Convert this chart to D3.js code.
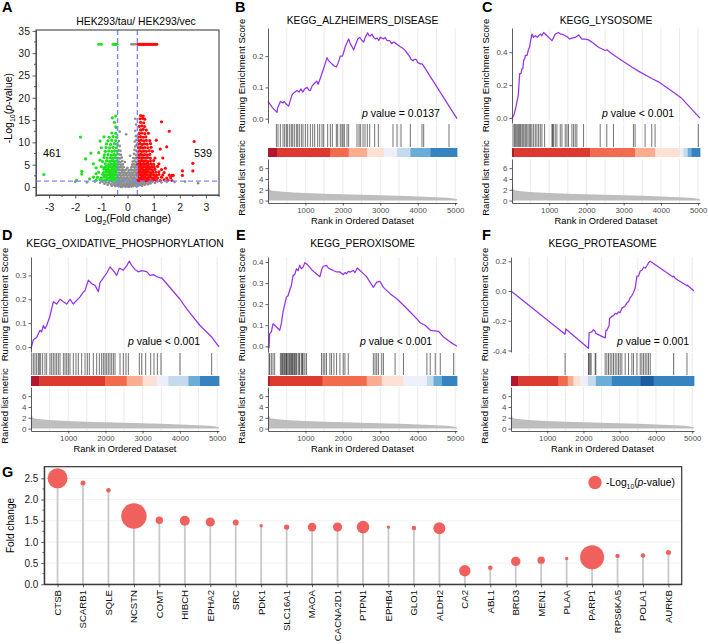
<!DOCTYPE html>
<html><head><meta charset="utf-8">
<script src="https://cdn.jsdelivr.net/npm/d3@7"></script>
<style>body{margin:0;background:#fff}</style>
</head><body><svg id="c" width="708" height="644"></svg>
<script>
const FONT = "'Liberation Sans', Arial, Helvetica, sans-serif";

// ---------------- Panel A data ----------------
const volcanoTitle = "HEK293/tau/ HEK293/vec";
const volcanoXTicks = [-3,-2,-1,0,1,2,3];
const volcanoYTicks = [0,5,10,15,20,25,30,35];
const foldCutoff = 0.378;
const pCutoff = 1.301;
const downCount = "461";
const upCount = "539";
const volcanoGray = [
[-2.0,1.15],[-1.55,1.05],[-1.25,1.2],[-1.05,0.95],[-0.95,1.15],[-0.88,0.7],[-0.82,1.05],[-0.76,0.45],[-0.72,0.9],[-0.68,1.2],[-0.63,0.6],[-0.6,0.25],[-0.57,1.0],[-0.53,0.5],[-0.5,0.85],[-0.47,0.2],[-0.44,1.15],[-0.42,0.6],[-0.39,0.35],[-0.36,0.9],[-0.34,0.15],[-0.31,0.55],[-0.28,1.1],[-0.26,0.3],[-0.23,0.75],[-0.2,0.1],[-0.18,0.5],[-0.15,0.95],[-0.13,0.25],[-0.1,0.6],[-0.08,0.05],[-0.05,0.35],[-0.03,0.8],[0,0.15],[0.02,0.5],[0.05,0.02],[0.07,0.7],[0.1,0.3],[0.12,1.0],[0.15,0.1],[0.17,0.55],[0.2,0.85],[0.22,0.2],[0.25,0.6],[0.27,1.15],[0.3,0.35],[0.32,0.8],[0.35,0.1],[0.37,0.5],[0.4,1.0],[0.42,0.3],[0.45,0.75],[0.48,1.2],[0.5,0.45],[0.53,0.9],[0.56,0.25],[0.59,0.65],[0.62,1.1],[0.66,0.5],[0.7,0.85],[0.74,1.2],[0.78,0.6],[0.83,1.0],[0.88,0.8],[0.95,1.15],[1.05,0.9],[1.15,1.2],[1.3,1.0],[1.5,1.15],[1.8,1.1],[2.2,1.2],[2.7,0.85],
[-0.25,0.02],[-0.15,0.4],[-0.05,0.6],[0.05,0.45],[0.15,0.75],[0.25,0.95],[-0.35,0.7],[0.35,0.65],[-0.1,1.2],[0.1,1.2],[-0.2,1.25],[0.2,1.25],[0,1.0],[-0.3,0.95],[0.3,1.0],
[-0.36,1.45],[-0.3,1.6],[-0.24,1.4],[-0.18,1.55],[-0.12,1.45],[-0.06,1.65],[0,1.4],[0.06,1.55],[0.12,1.4],[0.18,1.6],[0.24,1.45],[0.3,1.55],[0.36,1.4],
[-0.33,2.0],[-0.27,2.1],[-0.21,1.9],[-0.15,2.05],[-0.09,1.95],[-0.03,2.1],[0.03,1.9],[0.09,2.05],[0.15,2.15],[0.21,1.95],[0.27,2.05],[0.33,1.9],
[-0.36,2.55],[-0.3,2.7],[-0.24,2.5],[-0.18,2.65],[-0.12,2.55],[-0.06,2.7],[0,2.5],[0.06,2.65],[0.12,2.55],[0.18,2.7],[0.24,2.5],[0.3,2.65],[0.36,2.6],
[-0.33,3.2],[-0.27,3.1],[-0.21,3.3],[-0.15,3.15],[-0.09,3.25],[-0.03,3.1],[0.03,3.3],[0.09,3.15],[0.15,3.25],[0.21,3.1],[0.27,3.3],[0.33,3.2],
[-0.36,3.8],[-0.3,3.9],[-0.24,3.75],[-0.18,3.85],[-0.12,3.7],[-0.05,3.9],[0.05,3.75],[0.12,3.9],[0.18,3.8],[0.24,3.7],[0.3,3.85],[0.36,3.8],
[-0.33,4.4],[-0.27,4.5],[-0.21,4.35],[-0.15,4.45],[0,4.3],[0.15,4.4],[0.21,4.5],[0.27,4.35],[0.33,4.45],
[-0.36,5.0],[-0.3,5.1],[-0.24,4.95],[-0.18,5.05],[0.18,5.0],[0.24,5.1],[0.3,4.95],[0.36,5.05],
[-0.33,5.7],[-0.27,5.6],[-0.2,5.8],[-0.1,5.6],[0.2,5.7],[0.27,5.8],[0.33,5.6],
[-0.35,6.5],[-0.29,6.4],[-0.22,6.6],[0.22,6.5],[0.29,6.4],[0.35,6.6],
[-0.32,7.3],[-0.25,7.2],[0.1,7.0],[0.25,7.4],[0.32,7.2],
[-0.34,8.2],[-0.27,8.1],[0.27,8.3],[0.34,8.1],
[-0.3,9.2],[0.3,9.1],[0.35,9.4],
[-0.33,10.3],[0.28,10.2],[0.34,10.5],
[-0.05,11.8],[0.32,11.4],[0.3,12.6],[-0.3,12.4],[0.33,14.0],[0.3,15.3],
[0.15,32],[0.2,32],[0.25,32],[0.3,32]
];
const volcanoDown = [
[-0.4,1.5],[-0.46,1.4],[-0.52,1.6],[-0.58,1.45],[-0.64,1.55],[-0.7,1.4],[-0.78,1.6],[-0.86,1.5],[-0.95,1.45],[-1.05,1.6],[-1.2,1.5],
[-0.42,2.1],[-0.48,2.0],[-0.54,2.15],[-0.6,2.05],[-0.66,2.2],[-0.73,2.0],[-0.8,2.1],[-0.9,2.2],[-1.0,2.0],[-1.15,2.15],
[-0.4,2.7],[-0.46,2.8],[-0.52,2.65],[-0.58,2.75],[-0.64,2.6],[-0.7,2.8],[-0.77,2.7],[-0.85,2.65],[-0.95,2.8],
[-0.43,3.3],[-0.49,3.4],[-0.55,3.25],[-0.62,3.35],[-0.68,3.2],[-0.75,3.4],[-0.83,3.3],[-0.92,3.25],[-1.1,3.35],
[-0.41,3.9],[-0.47,3.85],[-0.53,4.0],[-0.6,3.9],[-0.67,3.8],[-0.74,3.95],[-0.82,3.9],[-0.9,4.0],
[-0.44,4.5],[-0.5,4.6],[-0.57,4.45],[-0.64,4.55],[-0.71,4.5],[-0.8,4.6],[-0.88,4.4],[-1.0,4.55],
[-0.4,5.1],[-0.47,5.2],[-0.55,5.05],[-0.63,5.15],[-0.72,5.1],[-0.85,5.2],
[-0.42,5.8],[-0.5,5.7],[-0.58,5.9],[-0.68,5.75],[-0.8,5.85],[-0.95,5.7],
[-0.4,6.5],[-0.48,6.6],[-0.57,6.45],[-0.66,6.55],[-0.78,6.5],[-0.9,6.6],
[-0.43,7.2],[-0.52,7.3],[-0.62,7.15],[-0.74,7.25],[-0.88,7.2],
[-0.4,8.0],[-0.5,8.1],[-0.6,7.95],[-0.72,8.05],[-0.85,8.0],
[-0.42,8.8],[-0.55,8.9],[-0.68,8.75],[-0.82,8.85],
[-0.4,9.6],[-0.5,9.7],[-0.65,9.55],[-0.8,9.65],
[-0.45,10.4],[-0.6,10.5],[-0.75,10.35],
[-0.42,11.2],[-0.55,11.3],[-0.7,11.15],[-0.9,11.25],
[-0.45,12.0],[-0.6,12.1],[-0.42,13.3],[-0.45,13.5],[-0.5,14.5],[-0.58,15.5],[-0.45,15.9],
[-3.2,2.8],[-1.95,1.5],[-1.8,11.2],[-1.75,3.5],[-1.75,2.9],[-1.6,6.3],[-1.4,7.6],[-1.3,5.2],[-1.2,4.3],[-1.1,7.7],[-1.05,10.3],[-1.3,2.2],[-1.2,3.0],[-1.45,1.8],[-1.0,8.8],[-1.05,6.0],
[-1.1,32],[-1.0,32],[-0.55,32],[-0.5,32],[-0.45,32],[-0.4,32]
];
const volcanoUp = [
[0.4,1.5],[0.46,1.4],[0.52,1.6],[0.58,1.45],[0.64,1.55],[0.7,1.4],[0.76,1.6],[0.82,1.5],[0.9,1.45],[1.0,1.6],[1.1,1.5],[1.25,1.45],[1.4,1.6],[1.55,1.5],[1.7,1.45],
[0.42,2.1],[0.48,2.0],[0.54,2.15],[0.6,2.05],[0.66,2.2],[0.72,2.0],[0.8,2.1],[0.88,2.2],[0.96,2.0],[1.05,2.15],[1.15,2.05],[1.3,2.2],[1.5,2.0],[1.65,2.1],
[0.4,2.7],[0.46,2.8],[0.52,2.65],[0.58,2.75],[0.64,2.6],[0.7,2.8],[0.76,2.7],[0.84,2.65],[0.92,2.8],[1.0,2.7],[1.1,2.6],[1.2,2.8],[1.35,2.7],[1.6,2.65],[1.75,2.6],
[0.43,3.3],[0.49,3.4],[0.55,3.25],[0.61,3.35],[0.67,3.2],[0.73,3.4],[0.8,3.3],[0.88,3.25],[0.97,3.35],[1.08,3.3],[1.2,3.4],[1.4,3.25],
[0.41,3.9],[0.47,3.85],[0.53,4.0],[0.59,3.9],[0.65,3.8],[0.72,3.95],[0.79,3.9],[0.87,4.0],[0.95,3.85],[1.05,3.95],[1.3,3.9],
[0.44,4.5],[0.5,4.6],[0.56,4.45],[0.62,4.55],[0.69,4.5],[0.76,4.6],[0.84,4.4],[0.93,4.55],[1.02,4.5],[1.15,4.6],
[0.4,5.1],[0.46,5.2],[0.52,5.05],[0.58,5.15],[0.65,5.1],[0.72,5.2],[0.8,5.05],[0.9,5.15],[1.0,5.1],[1.2,5.2],
[0.42,5.8],[0.48,5.7],[0.55,5.9],[0.62,5.75],[0.7,5.85],[0.78,5.7],[0.88,5.8],[1.0,5.9],
[0.4,6.5],[0.46,6.6],[0.53,6.45],[0.6,6.55],[0.68,6.5],[0.77,6.6],[0.87,6.45],[1.05,6.5],
[0.43,7.2],[0.5,7.3],[0.57,7.15],[0.65,7.25],[0.74,7.2],[0.85,7.3],
[0.4,8.0],[0.47,8.1],[0.55,7.95],[0.63,8.05],[0.72,8.0],[0.83,8.1],[0.95,8.0],
[0.42,8.8],[0.5,8.9],[0.58,8.75],[0.67,8.85],[0.78,8.8],[0.9,8.9],
[0.4,9.6],[0.48,9.7],[0.56,9.55],[0.65,9.65],[0.75,9.6],[0.88,9.7],
[0.44,10.4],[0.52,10.5],[0.62,10.35],[0.72,10.45],[0.85,10.4],
[0.42,11.2],[0.5,11.3],[0.6,11.15],[0.7,11.25],
[0.45,12.0],[0.55,12.1],[0.66,11.95],[0.8,12.05],
[0.5,12.8],[0.6,12.9],[0.72,12.75],[0.45,13.6],[0.55,13.7],[0.65,13.55],
[0.5,14.5],[0.62,14.4],[0.48,15.3],[0.58,15.4],[0.66,15.2],[0.5,16.0],[0.6,15.9],
[1.3,14.6],[1.6,12.5],[1.5,9.0],[2.1,3.6],[2.1,2.6],[2.55,10.2],[2.5,5.3],[2.5,3.6],[1.7,2.6],[1.25,8.5],[1.35,6.5],[1.1,10.5],[1.45,4.2],
[0.4,32],[0.44,32],[0.48,32],[0.52,32],[0.56,32],[0.6,32],[0.64,32],[0.68,32],[0.72,32],[0.76,32],[0.8,32],[0.84,32],[0.88,32],[0.92,32],[0.96,32],[1.0,32],[1.04,32],[1.08,32],[1.12,32]
];

// ---------------- GSEA data ----------------
const rankMax = 5050;
const rankTicks = [1000,2000,3000,4000,5000];
const metricTicks = [0,2,4,6];
const rankedMetric = [[0,4.5],[8,3.0],[20,2.4],[50,2.0],[100,1.85],[200,1.75],[400,1.62],[700,1.5],[1000,1.4],[1500,1.28],[2000,1.17],[2500,1.07],[3000,0.97],[3500,0.87],[4000,0.76],[4500,0.63],[4800,0.52],[4950,0.4],[5050,0.25]];

const esAlzheimers = [[0,0.055],[120,0.035],[240,0.02],[260,0.035],[330,0.055],[400,0.05],[430,0.055],[500,0.045],[552,0.04],[600,0.06],[640,0.075],[668,0.08],[720,0.085],[775,0.09],[830,0.085],[880,0.095],[930,0.085],[980,0.095],[1042,0.1],[1100,0.09],[1131,0.09],[1180,0.105],[1220,0.11],[1260,0.115],[1300,0.12],[1340,0.11],[1400,0.13],[1443,0.145],[1500,0.165],[1577,0.195],[1620,0.185],[1666,0.18],[1750,0.17],[1826,0.165],[1880,0.18],[1932,0.2],[1990,0.2],[2066,0.23],[2120,0.245],[2155,0.255],[2200,0.24],[2245,0.23],[2290,0.22],[2334,0.235],[2400,0.255],[2450,0.26],[2512,0.25],[2556,0.245],[2600,0.26],[2663,0.275],[2700,0.265],[2734,0.265],[2780,0.27],[2824,0.26],[2870,0.255],[2913,0.258],[2960,0.25],[3000,0.26],[3091,0.255],[3130,0.26],[3180,0.25],[3250,0.25],[3300,0.24],[3358,0.245],[3420,0.24],[3480,0.235],[3536,0.23],[3600,0.225],[3650,0.22],[3714,0.21],[3780,0.2],[3820,0.19],[3874,0.185],[3920,0.19],[3955,0.19],[4000,0.18],[4070,0.175],[4120,0.175],[4160,0.168],[5050,0.0]];
const hitsAlzheimers = [223,267,330,401,445,490,526,579,623,659,704,757,793,837,891,935,998,1060,1131,1194,1247,1327,1381,1443,1487,1594,1666,1719,1826,1862,1932,1977,2004,2040,2111,2155,2378,2432,2467,2539,2592,2654,2717,2850,2948,3340,3447,3554,3803,4115,4160,4836];
const barsAlzheimers = [[0,240,0],[240,1666,1],[1666,2155,2],[2155,2645,3],[2645,3091,4],[3091,3447,5],[3447,3803,6],[3803,4338,7],[4338,5050,8]];

const esLysosome = [[0,0],[45,0.015],[89,0.05],[134,0.1],[170,0.14],[206,0.27],[240,0.27],[268,0.3],[290,0.3],[313,0.35],[340,0.36],[358,0.38],[402,0.38],[447,0.42],[470,0.43],[492,0.46],[536,0.51],[581,0.49],[626,0.5],[680,0.49],[715,0.5],[760,0.51],[800,0.5],[849,0.52],[939,0.5],[1073,0.47],[1120,0.49],[1162,0.51],[1251,0.52],[1300,0.51],[1341,0.51],[1430,0.5],[1500,0.49],[1550,0.48],[1609,0.485],[1698,0.49],[1788,0.505],[1877,0.48],[1966,0.48],[2056,0.475],[2190,0.455],[2324,0.43],[2503,0.41],[2550,0.415],[2681,0.39],[2950,0.35],[3218,0.31],[3396,0.285],[3754,0.24],[3933,0.22],[4290,0.165],[4558,0.12],[5050,0.0]];
const hitsLysosome = [27,63,89,116,152,179,206,232,268,295,322,358,393,429,465,501,536,581,626,670,715,760,804,876,1073,1090,1117,1162,1207,1296,1341,1430,1475,1519,1609,1654,1698,1743,1922,2369,2547,2726,3262,3307,3575,3754,3843,5005];
const barsLysosome = [[0,60,0],[60,2100,1],[2100,3307,2],[3307,3843,3],[3843,4514,4],[4514,4603,5],[4603,4720,6],[4720,4827,7],[4827,5050,8]];

const esOxphos = [[0,-0.007],[63,0.03],[152,0.04],[242,0.07],[287,0.063],[331,0.09],[376,0.077],[421,0.09],[510,0.13],[600,0.19],[689,0.18],[779,0.2],[869,0.19],[958,0.18],[1048,0.2],[1137,0.18],[1227,0.195],[1316,0.21],[1406,0.23],[1451,0.236],[1540,0.28],[1630,0.265],[1719,0.258],[1809,0.232],[1853,0.27],[1943,0.29],[2033,0.31],[2122,0.335],[2212,0.32],[2301,0.3],[2373,0.33],[2480,0.322],[2570,0.34],[2641,0.36],[2704,0.342],[2794,0.325],[2883,0.315],[2973,0.32],[3107,0.316],[3197,0.3],[3286,0.303],[3376,0.295],[3465,0.29],[3510,0.29],[4002,0.2],[4182,0.16],[4540,0.09],[4853,0.042],[5050,0.0]];
const hitsOxphos = [18,63,107,152,197,224,260,313,376,421,510,555,600,645,689,734,779,869,913,958,1003,1048,1137,1209,1271,1361,1451,1513,1567,1674,1764,1836,1898,1943,1988,2033,2077,2122,2167,2212,2256,2391,2480,2552,2615,2910,2973,3080,3215,3304,3394,3492,4002,4853];
const barsOxphos = [[0,224,0],[224,1988,1],[1988,2570,2],[2570,3000,3],[3000,3376,4],[3376,3689,5],[3689,4227,6],[4227,4540,7],[4540,5050,8]];

const esPeroxisome = [[0,-0.01],[27,-0.005],[45,0.06],[89,0.068],[134,0.107],[179,0.1],[313,0.076],[358,0.11],[402,0.163],[492,0.234],[536,0.24],[581,0.266],[626,0.29],[670,0.337],[715,0.34],[760,0.368],[804,0.36],[849,0.384],[894,0.368],[938,0.376],[983,0.397],[1028,0.392],[1073,0.384],[1162,0.365],[1251,0.35],[1385,0.33],[1430,0.362],[1475,0.38],[1564,0.384],[1609,0.372],[1698,0.364],[1743,0.36],[1832,0.353],[1922,0.353],[2011,0.34],[2056,0.35],[2100,0.345],[2145,0.356],[2190,0.352],[2279,0.36],[2324,0.35],[2386,0.372],[2458,0.36],[2547,0.345],[2637,0.33],[2726,0.305],[2815,0.28],[2905,0.305],[2994,0.308],[3084,0.28],[3262,0.25],[3441,0.226],[3620,0.195],[3799,0.163],[3977,0.13],[4067,0.112],[4201,0.1],[4335,0.076],[4558,0.071],[4692,0.044],[4871,0.02],[5050,0.0]];
const hitsPeroxisome = [27,45,89,134,179,331,358,384,402,429,447,474,492,509,536,563,581,608,626,652,670,697,715,742,760,804,831,849,894,921,938,983,1028,1430,1475,1519,1564,1654,1698,1761,1832,1922,2011,2056,2145,2815,2860,2905,2950,3039,3084,3396,3620,4246,4335,4469,4603,4961];
const barsPeroxisome = [[0,45,0],[45,1457,1],[1457,2637,2],[2637,3039,3],[3039,3620,4],[3620,4246,5],[4246,4424,6],[4424,4648,7],[4648,5050,8]];

const esProteasome = [[0,0],[1493,-0.29],[1511,-0.255],[2138,-0.385],[2156,-0.28],[2230,-0.275],[2276,-0.26],[2322,-0.27],[2341,-0.285],[2506,-0.305],[2599,-0.315],[2620,-0.265],[2645,-0.265],[2709,-0.23],[2720,-0.185],[2783,-0.17],[2829,-0.165],[2875,-0.15],[2920,-0.155],[2967,-0.14],[3013,-0.145],[3059,-0.115],[3151,-0.1],[3200,-0.08],[3244,-0.07],[3290,-0.045],[3336,-0.03],[3380,-0.01],[3428,0.02],[3474,0.1],[3520,0.1],[3566,0.135],[3612,0.14],[3658,0.16],[3704,0.155],[3750,0.17],[3796,0.19],[3843,0.2],[4442,0.1],[4460,0.095],[4488,0.1],[4534,0.085],[4856,0.035],[4870,0.04],[4884,0.035],[5050,0.0]];
const hitsProteasome = [1493,2138,2156,2184,2212,2322,2341,2599,2645,2691,2737,2783,2829,2875,2921,2967,3013,3059,3151,3244,3336,3382,3474,3566,3612,3658,3704,3750,3796,3843,4488,4856];
const barsProteasome = [[0,203,0],[203,1309,1],[1309,1567,2],[1567,1724,3],[1724,1908,4],[1908,2120,5],[2120,2341,6],[2341,2783,7],[2783,3566,8],[3566,3935,9],[3935,5050,8]];

// ---------------- Panel G data ----------------
const genes = ["CTSB","SCARB1","SQLE","NCSTN","COMT","HIBCH","EPHA2","SRC","PDK1","SLC16A1","MAOA","CACNA2D1","PTPN1","EPHB4","GLO1","ALDH2","CA2","ABL1","BRD3","MEN1","PLAA","PARP1","RPS6KA5","POLA1","AURKB"];
const foldChange = [2.50,2.39,2.22,1.61,1.51,1.50,1.47,1.46,1.38,1.35,1.35,1.35,1.35,1.35,1.33,1.32,0.32,0.39,0.54,0.57,0.61,0.64,0.67,0.68,0.75];
const negLog10P = [24.8,1.55,1.31,40,3.4,6.2,5.25,2.23,0.72,1.81,4.59,5.25,9.84,0.72,1.31,8.93,8.06,1.31,5.48,3.4,0.72,35.7,1.2,1.31,1.55];
const fcTicks = [0,0.5,1.0,1.5,2.0,2.5];

// ---------------- drawing ----------------
const svg = d3.select("#c");
svg.append("rect").attr("width",708).attr("height",644).attr("fill","#fff");

function styleAxis(sel, fs, col, lineCol) {
  sel.attr("font-family", FONT);
  sel.select(".domain").attr("stroke", lineCol).attr("stroke-width", 0.8);
  sel.selectAll(".tick line").attr("stroke", lineCol).attr("stroke-width", 0.8);
  sel.selectAll(".tick text").attr("font-size", fs).attr("fill", col).attr("font-family", FONT);
}
function letter(t, x, y) {
  svg.append("text").attr("x",x).attr("y",y).text(t).attr("font-family",FONT)
    .attr("font-weight","bold").attr("font-size",14.5).attr("fill","#000");
}
const fmtMinus = f => d => f(d).replace("\u2212","-");

// ===== Panel A =====
(function(){
  const L=36,R=219,T=30,B=195;
  const x = d3.scaleLinear().domain([-3.5,3.5]).range([L,R]);
  const y = d3.scaleLinear().domain([-1.8,35.2]).range([B,T]);
  const g = svg.append("g");
  g.append("g").selectAll("line").data(d3.range(-3.5,3.51,0.5).filter(v=>Math.abs(v%1)>0.1))
    .join("line").attr("x1",d=>x(d)).attr("x2",d=>x(d)).attr("y1",B).attr("y2",B+2).attr("stroke","#333").attr("stroke-width",0.8);
  g.append("g").selectAll("line").data(d3.range(2.5,35,5))
    .join("line").attr("y1",d=>y(d)).attr("y2",d=>y(d)).attr("x1",L).attr("x2",L-2).attr("stroke","#333").attr("stroke-width",0.8);
  const ax = g.append("g").attr("transform",`translate(0,${B})`)
    .call(d3.axisBottom(x).tickValues(volcanoXTicks).tickSize(3.5).tickSizeOuter(0).tickFormat(fmtMinus(d3.format("d"))));
  styleAxis(ax, 10.5, "#222", "#333"); ax.selectAll(".tick text").attr("dy","0.9em");
  const ay = g.append("g").attr("transform",`translate(${L},0)`)
    .call(d3.axisLeft(y).tickValues(volcanoYTicks).tickSize(3.5).tickSizeOuter(0).tickPadding(2.5));
  styleAxis(ay, 10.5, "#222", "#333");
  g.append("g").selectAll("circle").data(volcanoGray).join("circle")
    .attr("cx",d=>x(d[0])).attr("cy",d=>y(d[1])).attr("r",1.35).attr("fill","#8e8e8e");
  g.append("g").selectAll("circle").data(volcanoDown).join("circle")
    .attr("cx",d=>x(d[0])).attr("cy",d=>y(d[1])).attr("r",1.6).attr("fill","#1fe01f");
  g.append("g").selectAll("circle").data(volcanoUp).join("circle")
    .attr("cx",d=>x(d[0])).attr("cy",d=>y(d[1])).attr("r",1.6).attr("fill","#ff0a0a");
  const dash = {stroke:"#7f86ff", "stroke-width":1.4, "stroke-dasharray":"5,3"};
  [-foldCutoff, foldCutoff].forEach(v=>{
    const l = g.append("line").attr("x1",x(v)).attr("x2",x(v)).attr("y1",T).attr("y2",B);
    Object.entries(dash).forEach(([k,val])=>l.attr(k,val));
  });
  const h = g.append("line").attr("x1",L).attr("x2",R).attr("y1",y(pCutoff)).attr("y2",y(pCutoff));
  Object.entries(dash).forEach(([k,val])=>h.attr(k,val));
  g.append("rect").attr("x",L).attr("y",T).attr("width",R-L).attr("height",B-T).attr("fill","none").attr("stroke","#444").attr("stroke-width",1.1);
  g.append("text").attr("x",136).attr("y",25).attr("text-anchor","middle").attr("font-family",FONT).attr("font-size",10.4).text(volcanoTitle);
  g.append("text").attr("x",52).attr("y",157).attr("text-anchor","middle").attr("font-family",FONT).attr("font-size",10.8).text(downCount);
  g.append("text").attr("x",203).attr("y",157).attr("text-anchor","middle").attr("font-family",FONT).attr("font-size",10.8).text(upCount);
  const xl = g.append("text").attr("x",128).attr("y",222).attr("text-anchor","middle").attr("font-family",FONT).attr("font-size",10.5);
  xl.append("tspan").text("Log");
  xl.append("tspan").text("2").attr("font-size",7).attr("dy",2.5);
  xl.append("tspan").text("(Fold change)").attr("dy",-2.5);
  const yl = g.append("text").attr("transform","translate(12,108) rotate(-90)").attr("text-anchor","middle").attr("font-family",FONT).attr("font-size",10.5);
  yl.append("tspan").text("-Log");
  yl.append("tspan").text("10").attr("font-size",7).attr("dy",2.5);
  yl.append("tspan").text("(").attr("dy",-2.5);
  yl.append("tspan").text("p").attr("font-style","italic");
  yl.append("tspan").text("-value)");
})();
letter("A",2,12);

// ===== GSEA panels =====
const gseaRows = [
 {esTop:28, esBot:123, hitTop:124, hitBot:147, barTop:148, barBot:157, rkTop:159, rkBot:203, titleY:24, xlabY:223.5},
 {esTop:257, esBot:352, hitTop:353, hitBot:375, barTop:376, barBot:386, rkTop:387, rkBot:431, titleY:247, xlabY:451.5}
];
const barPalette = ["#b2182b","#da3a2f","#f26b4e","#f9ad90","#fde1d4","#edf0fa","#c4daed","#6cadd7","#3683c0","#1d5c9e"];

function drawGsea(p) {
  const r = gseaRows[p.row];
  const g = svg.append("g");
  const x = d3.scaleLinear().domain([0, rankMax]).range([p.L, p.R]);
  const y = d3.scaleLinear().domain(p.esDomain).range([r.esBot, r.esTop]);
  const ym = d3.scaleLinear().domain([-0.45, 7.7]).range([r.rkBot, r.rkTop]);
  const grid = d3.range(500, rankMax, 500);
  [[r.esTop,r.esBot],[r.hitTop,r.barTop],[r.rkTop,r.rkBot]].forEach(([a,b])=>{
    g.append("g").selectAll("line").data(grid).join("line")
      .attr("x1",d=>x(d)).attr("x2",d=>x(d)).attr("y1",a).attr("y2",b)
      .attr("stroke","#e4e4e4").attr("stroke-width",0.8);
  });
  g.append("path").datum(p.es)
    .attr("d", d3.line().x(d=>x(d[0])).y(d=>y(d[1])))
    .attr("fill","none").attr("stroke","#9633e8").attr("stroke-width",1.25).attr("stroke-linejoin","round");
  g.append("g").selectAll("line").data(p.hits).join("line")
    .attr("x1",d=>x(d)).attr("x2",d=>x(d)).attr("y1",r.hitTop).attr("y2",r.hitBot)
    .attr("stroke","#000").attr("stroke-opacity",0.65).attr("stroke-width",0.85);
  g.append("g").selectAll("rect").data(p.bars).join("rect")
    .attr("x",d=>x(d[0])).attr("width",d=>x(d[1])-x(d[0])+0.4)
    .attr("y",r.barTop).attr("height",r.barBot-r.barTop).attr("fill",d=>barPalette[d[2]]);
  g.append("path").datum(rankedMetric)
    .attr("d", d3.area().x(d=>x(d[0])).y0(ym(0)).y1(d=>ym(d[1])))
    .attr("fill","#bebebe");
  const ay = g.append("g").attr("transform",`translate(${p.L},0)`)
    .call(d3.axisLeft(y).tickValues(p.esTicks).tickSize(2.5).tickSizeOuter(0).tickPadding(2).tickFormat(fmtMinus(d3.format(".1f"))));
  styleAxis(ay, 8, "#4d4d4d", "#333");
  const am = g.append("g").attr("transform",`translate(${p.L},0)`)
    .call(d3.axisLeft(ym).tickValues(metricTicks).tickSize(2.5).tickSizeOuter(0).tickPadding(2));
  styleAxis(am, 8, "#4d4d4d", "#333");
  const ax = g.append("g").attr("transform",`translate(0,${r.rkBot})`)
    .call(d3.axisBottom(x).tickValues(rankTicks).tickSize(2.5).tickSizeOuter(0).tickPadding(1.5).tickFormat(d3.format("d")));
  styleAxis(ax, 7.8, "#4d4d4d", "#333");
  const cx = (p.L+p.R)/2;
  g.append("text").attr("x",cx).attr("y",r.titleY).attr("text-anchor","middle")
    .attr("font-family",FONT).attr("font-size",10.3).text(p.title);
  g.append("text").attr("x",cx).attr("y",r.xlabY).attr("text-anchor","middle")
    .attr("font-family",FONT).attr("font-size",9.3).text("Rank in Ordered Dataset");
  g.append("text").attr("transform",`translate(${p.L-23},${(r.esTop+r.esBot)/2}) rotate(-90)`)
    .attr("text-anchor","middle").attr("font-family",FONT).attr("font-size",9.5).text("Running Enrichment Score");
  g.append("text").attr("transform",`translate(${p.L-23},${(r.rkTop+r.rkBot)/2 - 3}) rotate(-90)`)
    .attr("text-anchor","middle").attr("font-family",FONT).attr("font-size",9.5).text("Ranked list metric");
  const pt = g.append("text").attr("x",p.px).attr("y",p.py).attr("font-family",FONT).attr("font-size",10.5);
  pt.append("tspan").text("p").attr("font-style","italic");
  pt.append("tspan").text(" value " + p.pval);
}

drawGsea({row:0,L:268,R:457,title:"KEGG_ALZHEIMERS_DISEASE",es:esAlzheimers,hits:hitsAlzheimers,bars:barsAlzheimers,esDomain:[-0.014,0.29],esTicks:[0,0.1,0.2],pval:"= 0.0137",px:362,py:117});
drawGsea({row:0,L:512,R:700,title:"KEGG_LYSOSOME",es:esLysosome,hits:hitsLysosome,bars:barsLysosome,esDomain:[-0.03,0.547],esTicks:[0,0.2,0.4],pval:"< 0.001",px:602,py:116.5});
drawGsea({row:1,L:31,R:219,title:"KEGG_OXIDATIVE_PHOSPHORYLATION",es:esOxphos,hits:hitsOxphos,bars:barsOxphos,esDomain:[-0.021,0.377],esTicks:[0,0.1,0.2,0.3],pval:"< 0.001",px:128,py:345});
drawGsea({row:1,L:268,R:457,title:"KEGG_PEROXISOME",es:esPeroxisome,hits:hitsPeroxisome,bars:barsPeroxisome,esDomain:[-0.027,0.424],esTicks:[0,0.1,0.2,0.3,0.4],pval:"< 0.001",px:360,py:345});
drawGsea({row:1,L:511,R:694,title:"KEGG_PROTEASOME",es:esProteasome,hits:hitsProteasome,bars:barsProteasome,esDomain:[-0.41,0.229],esTicks:[-0.4,-0.2,0,0.2],pval:"= 0.001",px:617,py:345});
letter("B",235,12); letter("C",482,12);
letter("D",2,240); letter("E",236,240); letter("F",482,240);

// ===== Panel G =====
(function(){
  const L=44.3,R=681.7,T=466.7,B=584.3;
  const x = d3.scalePoint().domain(genes).range([L,R]).padding(0.52);
  const y = d3.scaleLinear().domain([0,2.775]).range([B,T]);
  const rs = d3.scaleSqrt().domain([0,40]).range([0,12.7]);
  const g = svg.append("g");
  g.append("g").selectAll("line").data(fcTicks.slice(1)).join("line")
    .attr("x1",L).attr("x2",R).attr("y1",d=>y(d)).attr("y2",d=>y(d)).attr("stroke","#efefef").attr("stroke-width",0.8);
  g.append("g").selectAll("line").data(d3.range(0.25,2.7,0.5)).join("line")
    .attr("x1",L).attr("x2",L-1.8).attr("y1",d=>y(d)).attr("y2",d=>y(d)).attr("stroke","#333").attr("stroke-width",0.8);
  const data = genes.map((gname,i)=>({g:gname, fc:foldChange[i], p:negLog10P[i]}));
  g.append("g").selectAll("line").data(data).join("line")
    .attr("x1",d=>x(d.g)).attr("x2",d=>x(d.g)).attr("y1",y(0)).attr("y2",d=>y(d.fc))
    .attr("stroke","#c9c9c9").attr("stroke-width",1.8);
  g.append("g").selectAll("circle").data(data).join("circle")
    .attr("cx",d=>x(d.g)).attr("cy",d=>y(d.fc)).attr("r",d=>rs(d.p)).attr("fill","#f0605c");
  const ax = g.append("g").attr("transform",`translate(0,${B})`)
    .call(d3.axisBottom(x).tickSize(3).tickSizeOuter(0).tickFormat(""));
  styleAxis(ax, 9.6, "#222", "#333");
  g.append("g").selectAll("text").data(genes).join("text")
    .attr("transform",d=>`translate(${x(d)},590) rotate(-90)`).attr("dy","0.35em")
    .attr("text-anchor","end").attr("font-family",FONT).attr("font-size",9.6).attr("fill","#111").text(d=>d);
  const ay = g.append("g").attr("transform",`translate(${L},0)`)
    .call(d3.axisLeft(y).tickValues(fcTicks).tickSize(3).tickSizeOuter(0).tickFormat(d3.format(".1f")));
  styleAxis(ay, 10, "#222", "#333");
  g.append("rect").attr("x",L).attr("y",T).attr("width",R-L).attr("height",B-T).attr("fill","none").attr("stroke","#333").attr("stroke-width",1.2);
  g.append("text").attr("transform",`translate(14,${(T+B)/2}) rotate(-90)`).attr("text-anchor","middle")
    .attr("font-family",FONT).attr("font-size",10).text("Fold change");
  g.append("circle").attr("cx",595).attr("cy",482.5).attr("r",rs(11)).attr("fill","#f0605c");
  const lt = g.append("text").attr("x",606).attr("y",486).attr("font-family",FONT).attr("font-size",10.3);
  lt.append("tspan").text("-Log");
  lt.append("tspan").text("10").attr("font-size",6.8).attr("dy",2.5);
  lt.append("tspan").text("(").attr("dy",-2.5);
  lt.append("tspan").text("p").attr("font-style","italic");
  lt.append("tspan").text("-value)");
})();
letter("G",2,477);
</script></body></html>
